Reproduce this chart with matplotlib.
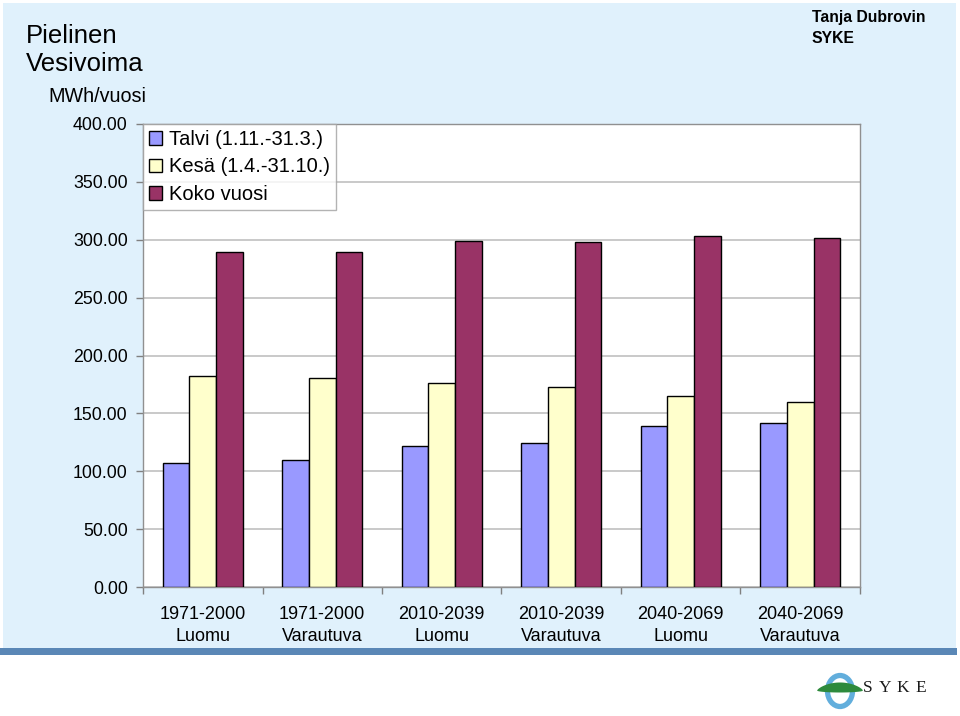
import matplotlib
matplotlib.use("Agg")
import matplotlib.pyplot as plt
import numpy as np
from matplotlib.patches import Rectangle, Ellipse, Polygon

plt.rcParams['font.family'] = ['Liberation Sans', 'DejaVu Sans']

categories = ["1971-2000\nLuomu", "1971-2000\nVarautuva", "2010-2039\nLuomu",
              "2010-2039\nVarautuva", "2040-2069\nLuomu", "2040-2069\nVarautuva"]
series_names = ["Talvi (1.11.-31.3.)", "Kesä (1.4.-31.10.)", "Koko vuosi"]
talvi = [107.3, 109.3, 122.2, 124.6, 138.7, 141.3]
kesa = [182.2, 180.2, 176.1, 173.0, 164.9, 160.0]
koko = [289.5, 289.5, 298.5, 297.7, 303.6, 301.6]
yticks = [0, 50, 100, 150, 200, 250, 300, 350, 400]
colors = ["#9999FF", "#FFFFCC", "#993366"]

W, H = 960, 716
fig = plt.figure(figsize=(W / 100, H / 100), dpi=100)
fig.patch.set_facecolor("white")

# background overlay in pixel coordinates
bg = fig.add_axes([0, 0, 1, 1], zorder=-1)
bg.set_xlim(0, W)
bg.set_ylim(H, 0)
bg.axis("off")
bg.add_patch(Rectangle((3, 3), 953, 645, facecolor="#E0F1FC", edgecolor="none"))
bg.add_patch(Rectangle((0, 648), 957, 7, facecolor="#5A87B6", edgecolor="none"))

# SYKE logo
bg.add_patch(Ellipse((840, 691), 25, 31, facecolor="none", edgecolor="#62AEDC", linewidth=3.8))
hill_x = np.linspace(817, 863, 48)
frac = np.sqrt(np.clip(1 - ((hill_x - 840) / 23) ** 2, 0, 1))
hill_top = 690.5 - 8.0 * frac ** 1.5
hill_bot = 690.5 + 2.0 * frac
pts = np.concatenate([np.column_stack([hill_x, hill_top]),
                      np.column_stack([hill_x[::-1], hill_bot[::-1]])])
bg.add_patch(Polygon(pts, closed=True, facecolor="#2E8A3C", edgecolor="none"))
for ch, xx in zip("SYKE", [868, 885, 903, 921]):
    bg.text(xx, 688, ch, ha="center", va="center", fontsize=12.5,
            family=["Liberation Serif", "DejaVu Serif"], color="#1a1a1a")

# main axes
ax = fig.add_axes([143 / W, 1 - 587 / H, (860 - 143) / W, (587 - 124) / H])
ax.set_facecolor("white")
x = np.arange(len(categories))
bw = 0.667 / 3
for i, (vals, name) in enumerate(zip([talvi, kesa, koko], series_names)):
    ax.bar(x + (i - 1) * bw, vals, width=bw, color=colors[i], edgecolor="black",
           linewidth=1.0, label=name, zorder=3)

ax.set_xlim(-0.5, len(categories) - 0.5)
ax.set_ylim(0, 400)
ax.set_yticks(yticks)
ax.set_yticklabels([f"{v:.2f}" for v in yticks], fontsize=12.8)
ax.yaxis.grid(True, color="#C0C0C0", linewidth=1.2, zorder=0)
ax.set_axisbelow(True)
ax.tick_params(axis="y", direction="out", length=5, width=1, color="#808080", pad=6)

ax.set_xticks(x)
ax.set_xticklabels(categories, fontsize=13, linespacing=1.35)
ax.tick_params(axis="x", which="major", length=0, pad=14)
ax.set_xticks(np.arange(-0.5, len(categories)), minor=True)
ax.tick_params(axis="x", which="minor", direction="out", length=5, width=1, color="#808080")

for s in ax.spines.values():
    s.set_color("#909090")
    s.set_linewidth(1.0)

leg = ax.legend(loc="upper left", bbox_to_anchor=(0, 1), borderaxespad=0,
                fontsize=14.5, frameon=True, fancybox=False, handlelength=0.65,
                handleheight=0.65, handletextpad=0.35, labelspacing=0.42,
                borderpad=0.3)
leg.get_frame().set_edgecolor("#A0A0A0")
leg.get_frame().set_linewidth(1.0)
leg.set_zorder(5)

# titles
fig.text(26 / W, 1 - 43 / H, "Pielinen", fontsize=18.5, va="baseline", ha="left")
fig.text(26 / W, 1 - 71 / H, "Vesivoima", fontsize=18.5, va="baseline", ha="left")
fig.text(48 / W, 1 - 102 / H, "MWh/vuosi", fontsize=14.2, va="baseline", ha="left")
fig.text(812 / W, 1 - 22 / H, "Tanja Dubrovin", fontsize=11.3, fontweight="bold",
         va="baseline", ha="left")
fig.text(812 / W, 1 - 43 / H, "SYKE", fontsize=11.3, fontweight="bold",
         va="baseline", ha="left")

fig.savefig("out.png", dpi=100, facecolor=fig.get_facecolor())
